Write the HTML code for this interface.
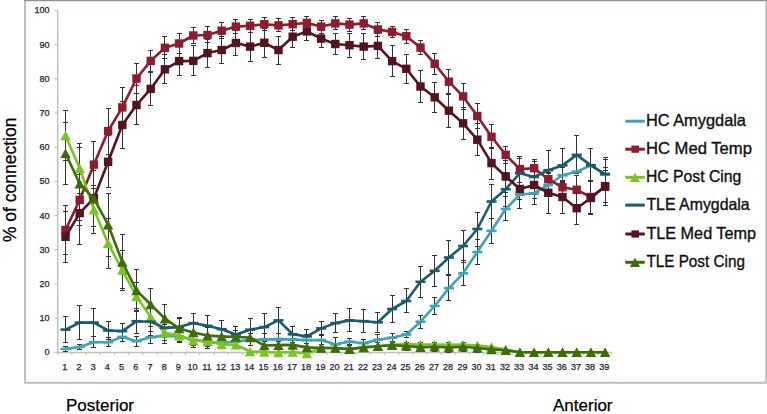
<!DOCTYPE html>
<html><head><meta charset="utf-8"><style>
html,body{margin:0;padding:0;background:#fff;}
body{width:767px;height:414px;overflow:hidden;position:relative;font-family:"Liberation Sans",sans-serif;}
svg{position:absolute;left:0;top:0;}
.tl{font-size:9px;fill:#1c1c40;stroke:#1c1c40;stroke-width:0.25px;}
.lg{font-size:16.5px;fill:#101010;stroke:#101010;stroke-width:0.35px;}
.yt{font-size:17.5px;fill:#000;stroke:#000;stroke-width:0.25px;}
.bt{font-size:17px;fill:#000;stroke:#000;stroke-width:0.25px;}
</style></head><body>
<svg width="767" height="414" viewBox="0 0 767 414">
<path d="M25 0V382.8H766.3V0" fill="none" stroke="#bcc0c0" stroke-width="2"/><path d="M24 0.6H767" stroke="#8c9494" stroke-width="1.2"/>
<path d="M57.7 10.5V352.4H611.2" fill="none" stroke="#bcc3c3" stroke-width="1.5"/>
<path d="M54.5 352.4H57.7M54.5 318.2H57.7M54.5 284.0H57.7M54.5 249.8H57.7M54.5 215.6H57.7M54.5 181.4H57.7M54.5 147.3H57.7M54.5 113.1H57.7M54.5 78.9H57.7M54.5 44.7H57.7M54.5 10.5H57.7M57.7 352.4V355M71.9 352.4V355M86.1 352.4V355M100.3 352.4V355M114.5 352.4V355M128.7 352.4V355M142.9 352.4V355M157.1 352.4V355M171.3 352.4V355M185.5 352.4V355M199.7 352.4V355M213.9 352.4V355M228.1 352.4V355M242.3 352.4V355M256.5 352.4V355M270.7 352.4V355M284.9 352.4V355M299.1 352.4V355M313.3 352.4V355M327.5 352.4V355M341.7 352.4V355M355.9 352.4V355M370.1 352.4V355M384.3 352.4V355M398.5 352.4V355M412.7 352.4V355M426.9 352.4V355M441.1 352.4V355M455.3 352.4V355M469.5 352.4V355M483.7 352.4V355M497.9 352.4V355M512.1 352.4V355M526.3 352.4V355M540.5 352.4V355M554.7 352.4V355M568.9 352.4V355M583.1 352.4V355M597.3 352.4V355M611.5 352.4V355" fill="none" stroke="#bcc3c3" stroke-width="1.2"/>
<text x="49.5" y="355.3" text-anchor="end" class="tl">0</text>
<text x="49.5" y="321.1" text-anchor="end" class="tl">10</text>
<text x="49.5" y="286.9" text-anchor="end" class="tl">20</text>
<text x="49.5" y="252.7" text-anchor="end" class="tl">30</text>
<text x="49.5" y="218.5" text-anchor="end" class="tl">40</text>
<text x="49.5" y="184.3" text-anchor="end" class="tl">50</text>
<text x="49.5" y="150.2" text-anchor="end" class="tl">60</text>
<text x="49.5" y="116.0" text-anchor="end" class="tl">70</text>
<text x="49.5" y="81.8" text-anchor="end" class="tl">80</text>
<text x="49.5" y="47.6" text-anchor="end" class="tl">90</text>
<text x="49.5" y="13.4" text-anchor="end" class="tl">100</text>
<text x="64.8" y="369.6" text-anchor="middle" class="tl">1</text>
<text x="79.0" y="369.6" text-anchor="middle" class="tl">2</text>
<text x="93.2" y="369.6" text-anchor="middle" class="tl">3</text>
<text x="107.3" y="369.6" text-anchor="middle" class="tl">4</text>
<text x="121.6" y="369.6" text-anchor="middle" class="tl">5</text>
<text x="135.8" y="369.6" text-anchor="middle" class="tl">6</text>
<text x="149.9" y="369.6" text-anchor="middle" class="tl">7</text>
<text x="164.2" y="369.6" text-anchor="middle" class="tl">8</text>
<text x="178.3" y="369.6" text-anchor="middle" class="tl">9</text>
<text x="192.6" y="369.6" text-anchor="middle" class="tl">10</text>
<text x="206.8" y="369.6" text-anchor="middle" class="tl">11</text>
<text x="220.9" y="369.6" text-anchor="middle" class="tl">12</text>
<text x="235.2" y="369.6" text-anchor="middle" class="tl">13</text>
<text x="249.3" y="369.6" text-anchor="middle" class="tl">14</text>
<text x="263.5" y="369.6" text-anchor="middle" class="tl">15</text>
<text x="277.8" y="369.6" text-anchor="middle" class="tl">16</text>
<text x="291.9" y="369.6" text-anchor="middle" class="tl">17</text>
<text x="306.1" y="369.6" text-anchor="middle" class="tl">18</text>
<text x="320.4" y="369.6" text-anchor="middle" class="tl">19</text>
<text x="334.5" y="369.6" text-anchor="middle" class="tl">20</text>
<text x="348.8" y="369.6" text-anchor="middle" class="tl">21</text>
<text x="363.0" y="369.6" text-anchor="middle" class="tl">22</text>
<text x="377.1" y="369.6" text-anchor="middle" class="tl">23</text>
<text x="391.4" y="369.6" text-anchor="middle" class="tl">24</text>
<text x="405.5" y="369.6" text-anchor="middle" class="tl">25</text>
<text x="419.8" y="369.6" text-anchor="middle" class="tl">26</text>
<text x="433.9" y="369.6" text-anchor="middle" class="tl">27</text>
<text x="448.1" y="369.6" text-anchor="middle" class="tl">28</text>
<text x="462.4" y="369.6" text-anchor="middle" class="tl">29</text>
<text x="476.5" y="369.6" text-anchor="middle" class="tl">30</text>
<text x="490.8" y="369.6" text-anchor="middle" class="tl">31</text>
<text x="504.9" y="369.6" text-anchor="middle" class="tl">32</text>
<text x="519.1" y="369.6" text-anchor="middle" class="tl">33</text>
<text x="533.4" y="369.6" text-anchor="middle" class="tl">34</text>
<text x="547.5" y="369.6" text-anchor="middle" class="tl">35</text>
<text x="561.8" y="369.6" text-anchor="middle" class="tl">36</text>
<text x="575.9" y="369.6" text-anchor="middle" class="tl">37</text>
<text x="590.1" y="369.6" text-anchor="middle" class="tl">38</text>
<text x="604.3" y="369.6" text-anchor="middle" class="tl">39</text>
<path d="M65.5 346.5V351.5M63.0 346.5h5M63.0 351.5h5M79.5 344.5V349.5M77.0 344.5h5M77.0 349.5h5M93.5 336.5V347.5M91.0 336.5h5M91.0 347.5h5M108.5 337.5V346.5M106.0 337.5h5M106.0 346.5h5M122.5 331.5V341.5M120.0 331.5h5M120.0 341.5h5M136.5 336.5V346.5M134.0 336.5h5M134.0 346.5h5M150.5 331.5V343.5M148.0 331.5h5M148.0 343.5h5M164.5 327.5V343.5M162.0 327.5h5M162.0 343.5h5M179.5 329.5V342.5M177.0 329.5h5M177.0 342.5h5M193.5 331.5V347.5M191.0 331.5h5M191.0 347.5h5M207.5 334.5V348.5M205.0 334.5h5M205.0 348.5h5M221.5 336.5V348.5M219.0 336.5h5M219.0 348.5h5M235.5 335.5V347.5M233.0 335.5h5M233.0 347.5h5M250.5 333.5V345.5M248.0 333.5h5M248.0 345.5h5M264.5 333.5V345.5M262.0 333.5h5M262.0 345.5h5M278.5 333.5V345.5M276.0 333.5h5M276.0 345.5h5M292.5 333.5V345.5M290.0 333.5h5M290.0 345.5h5M306.5 334.5V346.5M304.0 334.5h5M304.0 346.5h5M321.5 334.5V346.5M319.0 334.5h5M319.0 346.5h5M335.5 337.5V351.5M333.0 337.5h5M333.0 351.5h5M349.5 338.5V344.5M347.0 338.5h5M347.0 344.5h5M363.5 339.5V347.5M361.0 339.5h5M361.0 347.5h5M377.5 334.5V345.5M375.0 334.5h5M375.0 345.5h5M392.5 333.5V342.5M390.0 333.5h5M390.0 342.5h5M406.5 331.5V337.5M404.0 331.5h5M404.0 337.5h5M420.5 315.5V328.5M418.0 315.5h5M418.0 328.5h5M434.5 297.5V314.5M432.0 297.5h5M432.0 314.5h5M448.5 275.5V300.5M446.0 275.5h5M446.0 300.5h5M463.5 260.5V285.5M461.0 260.5h5M461.0 285.5h5M477.5 239.5V264.5M475.0 239.5h5M475.0 264.5h5M491.5 218.5V243.5M489.0 218.5h5M489.0 243.5h5M505.5 196.5V220.5M503.0 196.5h5M503.0 220.5h5M519.5 189.5V199.5M517.0 189.5h5M517.0 199.5h5M534.5 188.5V198.5M532.0 188.5h5M532.0 198.5h5M548.5 173.5V196.5M546.0 173.5h5M546.0 196.5h5M562.5 167.5V183.5M560.0 167.5h5M560.0 183.5h5M590.5 148.5V181.5M588.0 148.5h5M588.0 181.5h5M605.5 159.5V189.5M603.0 159.5h5M603.0 189.5h5" fill="none" stroke="#333333" stroke-width="1"/>
<path d="M65.5 205.5V254.5M63.0 205.5h5M63.0 254.5h5M79.5 174.5V225.5M77.0 174.5h5M77.0 225.5h5M93.5 141.5V188.5M91.0 141.5h5M91.0 188.5h5M108.5 108.5V154.5M106.0 108.5h5M106.0 154.5h5M122.5 87.5V127.5M120.0 87.5h5M120.0 127.5h5M136.5 63.5V93.5M134.0 63.5h5M134.0 93.5h5M150.5 50.5V71.5M148.0 50.5h5M148.0 71.5h5M164.5 36.5V58.5M162.0 36.5h5M162.0 58.5h5M179.5 33.5V53.5M177.0 33.5h5M177.0 53.5h5M193.5 27.5V43.5M191.0 27.5h5M191.0 43.5h5M207.5 26.5V42.5M205.0 26.5h5M205.0 42.5h5M221.5 22.5V38.5M219.0 22.5h5M219.0 38.5h5M235.5 19.5V33.5M233.0 19.5h5M233.0 33.5h5M250.5 19.5V32.5M248.0 19.5h5M248.0 32.5h5M264.5 17.5V30.5M262.0 17.5h5M262.0 30.5h5M278.5 18.5V31.5M276.0 18.5h5M276.0 31.5h5M292.5 17.5V30.5M290.0 17.5h5M290.0 30.5h5M306.5 16.5V29.5M304.0 16.5h5M304.0 29.5h5M321.5 20.5V33.5M319.0 20.5h5M319.0 33.5h5M335.5 16.5V29.5M333.0 16.5h5M333.0 29.5h5M349.5 18.5V31.5M347.0 18.5h5M347.0 31.5h5M363.5 16.5V29.5M361.0 16.5h5M361.0 29.5h5M377.5 22.5V36.5M375.0 22.5h5M375.0 36.5h5M392.5 26.5V37.5M390.0 26.5h5M390.0 37.5h5M406.5 29.5V43.5M404.0 29.5h5M404.0 43.5h5M420.5 40.5V54.5M418.0 40.5h5M418.0 54.5h5M434.5 53.5V74.5M432.0 53.5h5M432.0 74.5h5M448.5 69.5V94.5M446.0 69.5h5M446.0 94.5h5M463.5 83.5V109.5M461.0 83.5h5M461.0 109.5h5M477.5 103.5V128.5M475.0 103.5h5M475.0 128.5h5M491.5 124.5V148.5M489.0 124.5h5M489.0 148.5h5M505.5 146.5V163.5M503.0 146.5h5M503.0 163.5h5M519.5 156.5V182.5M517.0 156.5h5M517.0 182.5h5M534.5 161.5V175.5M532.0 161.5h5M532.0 175.5h5M548.5 173.5V185.5M546.0 173.5h5M546.0 185.5h5M562.5 181.5V193.5M560.0 181.5h5M560.0 193.5h5M576.5 175.5V204.5M574.0 175.5h5M574.0 204.5h5M590.5 180.5V213.5M588.0 180.5h5M588.0 213.5h5M605.5 170.5V202.5M603.0 170.5h5M603.0 202.5h5" fill="none" stroke="#333333" stroke-width="1"/>
<path d="M65.5 110.5V160.5M63.0 110.5h5M63.0 160.5h5M79.5 143.5V193.5M77.0 143.5h5M77.0 193.5h5M93.5 185.5V233.5M91.0 185.5h5M91.0 233.5h5M108.5 218.5V268.5M106.0 218.5h5M106.0 268.5h5M122.5 250.5V290.5M120.0 250.5h5M120.0 290.5h5M136.5 282.5V310.5M134.0 282.5h5M134.0 310.5h5M150.5 306.5V326.5M148.0 306.5h5M148.0 326.5h5M164.5 324.5V340.5M162.0 324.5h5M162.0 340.5h5M179.5 329.5V341.5M177.0 329.5h5M177.0 341.5h5M193.5 335.5V345.5M191.0 335.5h5M191.0 345.5h5M207.5 336.5V346.5M205.0 336.5h5M205.0 346.5h5M221.5 340.5V348.5M219.0 340.5h5M219.0 348.5h5M235.5 340.5V348.5M233.0 340.5h5M233.0 348.5h5" fill="none" stroke="#333333" stroke-width="1"/>
<path d="M65.5 316.5V342.5M63.0 316.5h5M63.0 342.5h5M79.5 305.5V339.5M77.0 305.5h5M77.0 339.5h5M93.5 308.5V336.5M91.0 308.5h5M91.0 336.5h5M108.5 321.5V339.5M106.0 321.5h5M106.0 339.5h5M122.5 323.5V338.5M120.0 323.5h5M120.0 338.5h5M136.5 308.5V333.5M134.0 308.5h5M134.0 333.5h5M150.5 308.5V335.5M148.0 308.5h5M148.0 335.5h5M164.5 317.5V337.5M162.0 317.5h5M162.0 337.5h5M179.5 317.5V337.5M177.0 317.5h5M177.0 337.5h5M193.5 313.5V333.5M191.0 313.5h5M191.0 333.5h5M207.5 315.5V335.5M205.0 315.5h5M205.0 335.5h5M221.5 320.5V338.5M219.0 320.5h5M219.0 338.5h5M235.5 326.5V342.5M233.0 326.5h5M233.0 342.5h5M250.5 318.5V340.5M248.0 318.5h5M248.0 340.5h5M264.5 313.5V340.5M262.0 313.5h5M262.0 340.5h5M278.5 307.5V333.5M276.0 307.5h5M276.0 333.5h5M292.5 326.5V342.5M290.0 326.5h5M290.0 342.5h5M306.5 329.5V343.5M304.0 329.5h5M304.0 343.5h5M321.5 321.5V335.5M319.0 321.5h5M319.0 335.5h5M335.5 313.5V332.5M333.0 313.5h5M333.0 332.5h5M349.5 308.5V331.5M347.0 308.5h5M347.0 331.5h5M363.5 309.5V332.5M361.0 309.5h5M361.0 332.5h5M377.5 312.5V332.5M375.0 312.5h5M375.0 332.5h5M392.5 295.5V322.5M390.0 295.5h5M390.0 322.5h5M406.5 288.5V312.5M404.0 288.5h5M404.0 312.5h5M420.5 266.5V297.5M418.0 266.5h5M418.0 297.5h5M434.5 255.5V286.5M432.0 255.5h5M432.0 286.5h5M448.5 240.5V274.5M446.0 240.5h5M446.0 274.5h5M463.5 230.5V262.5M461.0 230.5h5M461.0 262.5h5M477.5 212.5V246.5M475.0 212.5h5M475.0 246.5h5M491.5 184.5V218.5M489.0 184.5h5M489.0 218.5h5M505.5 172.5V206.5M503.0 172.5h5M503.0 206.5h5M519.5 158.5V188.5M517.0 158.5h5M517.0 188.5h5M534.5 159.5V194.5M532.0 159.5h5M532.0 194.5h5M548.5 150.5V190.5M546.0 150.5h5M546.0 190.5h5M562.5 148.5V182.5M560.0 148.5h5M560.0 182.5h5M576.5 135.5V173.5M574.0 135.5h5M574.0 173.5h5M590.5 148.5V181.5M588.0 148.5h5M588.0 181.5h5M605.5 157.5V190.5M603.0 157.5h5M603.0 190.5h5" fill="none" stroke="#333333" stroke-width="1"/>
<path d="M65.5 211.5V262.5M63.0 211.5h5M63.0 262.5h5M79.5 182.5V244.5M77.0 182.5h5M77.0 244.5h5M93.5 170.5V226.5M91.0 170.5h5M91.0 226.5h5M108.5 135.5V187.5M106.0 135.5h5M106.0 187.5h5M122.5 101.5V148.5M120.0 101.5h5M120.0 148.5h5M136.5 85.5V124.5M134.0 85.5h5M134.0 124.5h5M150.5 72.5V105.5M148.0 72.5h5M148.0 105.5h5M164.5 54.5V83.5M162.0 54.5h5M162.0 83.5h5M179.5 46.5V75.5M177.0 46.5h5M177.0 75.5h5M193.5 45.5V75.5M191.0 45.5h5M191.0 75.5h5M207.5 39.5V67.5M205.0 39.5h5M205.0 67.5h5M221.5 36.5V63.5M219.0 36.5h5M219.0 63.5h5M235.5 30.5V55.5M233.0 30.5h5M233.0 55.5h5M250.5 32.5V61.5M248.0 32.5h5M248.0 61.5h5M264.5 28.5V57.5M262.0 28.5h5M262.0 57.5h5M278.5 36.5V64.5M276.0 36.5h5M276.0 64.5h5M292.5 26.5V47.5M290.0 26.5h5M290.0 47.5h5M306.5 21.5V40.5M304.0 21.5h5M304.0 40.5h5M321.5 30.5V47.5M319.0 30.5h5M319.0 47.5h5M335.5 33.5V54.5M333.0 33.5h5M333.0 54.5h5M349.5 33.5V57.5M347.0 33.5h5M347.0 57.5h5M363.5 33.5V59.5M361.0 33.5h5M361.0 59.5h5M377.5 33.5V58.5M375.0 33.5h5M375.0 58.5h5M392.5 45.5V76.5M390.0 45.5h5M390.0 76.5h5M406.5 54.5V83.5M404.0 54.5h5M404.0 83.5h5M420.5 70.5V102.5M418.0 70.5h5M418.0 102.5h5M434.5 82.5V112.5M432.0 82.5h5M432.0 112.5h5M448.5 93.5V127.5M446.0 93.5h5M446.0 127.5h5M463.5 107.5V139.5M461.0 107.5h5M461.0 139.5h5M477.5 123.5V155.5M475.0 123.5h5M475.0 155.5h5M491.5 147.5V179.5M489.0 147.5h5M489.0 179.5h5M505.5 160.5V192.5M503.0 160.5h5M503.0 192.5h5M519.5 170.5V208.5M517.0 170.5h5M517.0 208.5h5M534.5 165.5V204.5M532.0 165.5h5M532.0 204.5h5M548.5 172.5V213.5M546.0 172.5h5M546.0 213.5h5M562.5 180.5V213.5M560.0 180.5h5M560.0 213.5h5M576.5 192.5V224.5M574.0 192.5h5M574.0 224.5h5M590.5 181.5V214.5M588.0 181.5h5M588.0 214.5h5M605.5 167.5V205.5M603.0 167.5h5M603.0 205.5h5" fill="none" stroke="#333333" stroke-width="1"/>
<path d="M65.5 122.5V184.5M63.0 122.5h5M63.0 184.5h5M79.5 147.5V220.5M77.0 147.5h5M77.0 220.5h5M93.5 170.5V226.5M91.0 170.5h5M91.0 226.5h5M108.5 193.5V256.5M106.0 193.5h5M106.0 256.5h5M122.5 234.5V288.5M120.0 234.5h5M120.0 288.5h5M136.5 269.5V311.5M134.0 269.5h5M134.0 311.5h5M150.5 288.5V320.5M148.0 288.5h5M148.0 320.5h5M164.5 304.5V332.5M162.0 304.5h5M162.0 332.5h5M179.5 318.5V338.5M177.0 318.5h5M177.0 338.5h5M193.5 322.5V342.5M191.0 322.5h5M191.0 342.5h5M207.5 327.5V343.5M205.0 327.5h5M205.0 343.5h5M221.5 329.5V343.5M219.0 329.5h5M219.0 343.5h5M235.5 330.5V342.5M233.0 330.5h5M233.0 342.5h5M250.5 333.5V341.5M248.0 333.5h5M248.0 341.5h5M264.5 341.5V349.5M262.0 341.5h5M262.0 349.5h5M278.5 341.5V349.5M276.0 341.5h5M276.0 349.5h5M292.5 340.5V348.5M290.0 340.5h5M290.0 348.5h5M306.5 343.5V351.5M304.0 343.5h5M304.0 351.5h5M321.5 344.5V352.5M319.0 344.5h5M319.0 352.5h5M335.5 344.5V352.5M333.0 344.5h5M333.0 352.5h5M349.5 345.5V353.5M347.0 345.5h5M347.0 353.5h5M363.5 343.5V351.5M361.0 343.5h5M361.0 351.5h5M377.5 342.5V350.5M375.0 342.5h5M375.0 350.5h5M392.5 341.5V349.5M390.0 341.5h5M390.0 349.5h5M406.5 342.5V350.5M404.0 342.5h5M404.0 350.5h5M420.5 342.5V351.5M418.0 342.5h5M418.0 351.5h5M434.5 342.5V351.5M432.0 342.5h5M432.0 351.5h5M448.5 342.5V352.5M446.0 342.5h5M446.0 352.5h5M463.5 342.5V351.5M461.0 342.5h5M461.0 351.5h5M477.5 344.5V352.5M475.0 344.5h5M475.0 352.5h5" fill="none" stroke="#333333" stroke-width="1"/>
<polyline points="65.5,348.9 79.7,347.0 93.9,342.2 108.1,342.2 122.3,336.9 136.5,341.2 150.7,337.2 164.9,335.6 179.1,336.4 193.3,339.8 207.5,341.7 221.7,343.0 235.9,341.5 250.1,339.8 264.3,339.5 278.5,339.1 292.7,339.5 306.9,340.1 321.1,340.1 335.3,344.3 349.5,341.7 363.7,343.2 377.9,339.8 392.1,337.7 406.3,334.5 420.5,321.7 434.7,306.0 448.9,288.1 463.1,273.3 477.3,252.0 491.5,230.8 505.7,209.0 519.9,194.5 534.1,193.2 548.3,185.0 562.5,175.3 576.7,171.7 590.9,165.4 605.1,174.6" fill="none" stroke="#3ba5b5" stroke-width="2.6" stroke-linejoin="round"/>
<rect x="60.5" y="347.6" width="10" height="2.6" fill="#3ba5b5"/><rect x="74.7" y="345.7" width="10" height="2.6" fill="#3ba5b5"/><rect x="88.9" y="340.9" width="10" height="2.6" fill="#3ba5b5"/><rect x="103.1" y="340.9" width="10" height="2.6" fill="#3ba5b5"/><rect x="117.3" y="335.6" width="10" height="2.6" fill="#3ba5b5"/><rect x="131.5" y="339.9" width="10" height="2.6" fill="#3ba5b5"/><rect x="145.7" y="335.9" width="10" height="2.6" fill="#3ba5b5"/><rect x="159.9" y="334.3" width="10" height="2.6" fill="#3ba5b5"/><rect x="174.1" y="335.1" width="10" height="2.6" fill="#3ba5b5"/><rect x="188.3" y="338.5" width="10" height="2.6" fill="#3ba5b5"/><rect x="202.5" y="340.4" width="10" height="2.6" fill="#3ba5b5"/><rect x="216.7" y="341.7" width="10" height="2.6" fill="#3ba5b5"/><rect x="230.9" y="340.2" width="10" height="2.6" fill="#3ba5b5"/><rect x="245.1" y="338.5" width="10" height="2.6" fill="#3ba5b5"/><rect x="259.3" y="338.2" width="10" height="2.6" fill="#3ba5b5"/><rect x="273.5" y="337.8" width="10" height="2.6" fill="#3ba5b5"/><rect x="287.7" y="338.2" width="10" height="2.6" fill="#3ba5b5"/><rect x="301.9" y="338.8" width="10" height="2.6" fill="#3ba5b5"/><rect x="316.1" y="338.8" width="10" height="2.6" fill="#3ba5b5"/><rect x="330.3" y="343.0" width="10" height="2.6" fill="#3ba5b5"/><rect x="344.5" y="340.4" width="10" height="2.6" fill="#3ba5b5"/><rect x="358.7" y="341.9" width="10" height="2.6" fill="#3ba5b5"/><rect x="372.9" y="338.5" width="10" height="2.6" fill="#3ba5b5"/><rect x="387.1" y="336.4" width="10" height="2.6" fill="#3ba5b5"/><rect x="401.3" y="333.2" width="10" height="2.6" fill="#3ba5b5"/><rect x="415.5" y="320.4" width="10" height="2.6" fill="#3ba5b5"/><rect x="429.7" y="304.7" width="10" height="2.6" fill="#3ba5b5"/><rect x="443.9" y="286.8" width="10" height="2.6" fill="#3ba5b5"/><rect x="458.1" y="272.0" width="10" height="2.6" fill="#3ba5b5"/><rect x="472.3" y="250.7" width="10" height="2.6" fill="#3ba5b5"/><rect x="486.5" y="229.5" width="10" height="2.6" fill="#3ba5b5"/><rect x="500.7" y="207.7" width="10" height="2.6" fill="#3ba5b5"/><rect x="514.9" y="193.2" width="10" height="2.6" fill="#3ba5b5"/><rect x="529.1" y="191.9" width="10" height="2.6" fill="#3ba5b5"/><rect x="543.3" y="183.7" width="10" height="2.6" fill="#3ba5b5"/><rect x="557.5" y="174.0" width="10" height="2.6" fill="#3ba5b5"/><rect x="571.7" y="170.4" width="10" height="2.6" fill="#3ba5b5"/><rect x="585.9" y="164.1" width="10" height="2.6" fill="#3ba5b5"/><rect x="600.1" y="173.3" width="10" height="2.6" fill="#3ba5b5"/>
<polyline points="65.5,230.0 79.7,199.9 93.9,164.6 108.1,131.1 122.3,107.4 136.5,78.5 150.7,60.9 164.9,47.8 179.1,43.5 193.3,35.5 207.5,35.0 221.7,30.7 235.9,26.6 250.1,25.8 264.3,24.2 278.5,25.4 292.7,24.2 306.9,22.9 321.1,26.6 335.3,23.4 349.5,24.6 363.7,23.4 377.9,29.5 392.1,31.9 406.3,36.2 420.5,47.6 434.7,63.8 448.9,81.7 463.1,96.4 477.3,116.0 491.5,136.8 505.7,154.8 519.9,169.1 534.1,168.2 548.3,179.2 562.5,187.3 576.7,189.8 590.9,197.0 605.1,186.5" fill="none" stroke="#8f1b2f" stroke-width="2.6" stroke-linejoin="round"/>
<rect x="61.3" y="225.8" width="8.4" height="8.4" fill="#8f1b2f"/><rect x="75.5" y="195.7" width="8.4" height="8.4" fill="#8f1b2f"/><rect x="89.7" y="160.4" width="8.4" height="8.4" fill="#8f1b2f"/><rect x="103.9" y="126.9" width="8.4" height="8.4" fill="#8f1b2f"/><rect x="118.1" y="103.2" width="8.4" height="8.4" fill="#8f1b2f"/><rect x="132.3" y="74.3" width="8.4" height="8.4" fill="#8f1b2f"/><rect x="146.5" y="56.7" width="8.4" height="8.4" fill="#8f1b2f"/><rect x="160.7" y="43.6" width="8.4" height="8.4" fill="#8f1b2f"/><rect x="174.9" y="39.3" width="8.4" height="8.4" fill="#8f1b2f"/><rect x="189.1" y="31.3" width="8.4" height="8.4" fill="#8f1b2f"/><rect x="203.3" y="30.8" width="8.4" height="8.4" fill="#8f1b2f"/><rect x="217.5" y="26.5" width="8.4" height="8.4" fill="#8f1b2f"/><rect x="231.7" y="22.4" width="8.4" height="8.4" fill="#8f1b2f"/><rect x="245.9" y="21.6" width="8.4" height="8.4" fill="#8f1b2f"/><rect x="260.1" y="20.0" width="8.4" height="8.4" fill="#8f1b2f"/><rect x="274.3" y="21.2" width="8.4" height="8.4" fill="#8f1b2f"/><rect x="288.5" y="20.0" width="8.4" height="8.4" fill="#8f1b2f"/><rect x="302.7" y="18.7" width="8.4" height="8.4" fill="#8f1b2f"/><rect x="316.9" y="22.4" width="8.4" height="8.4" fill="#8f1b2f"/><rect x="331.1" y="19.2" width="8.4" height="8.4" fill="#8f1b2f"/><rect x="345.3" y="20.4" width="8.4" height="8.4" fill="#8f1b2f"/><rect x="359.5" y="19.2" width="8.4" height="8.4" fill="#8f1b2f"/><rect x="373.7" y="25.3" width="8.4" height="8.4" fill="#8f1b2f"/><rect x="387.9" y="27.7" width="8.4" height="8.4" fill="#8f1b2f"/><rect x="402.1" y="32.0" width="8.4" height="8.4" fill="#8f1b2f"/><rect x="416.3" y="43.4" width="8.4" height="8.4" fill="#8f1b2f"/><rect x="430.5" y="59.6" width="8.4" height="8.4" fill="#8f1b2f"/><rect x="444.7" y="77.5" width="8.4" height="8.4" fill="#8f1b2f"/><rect x="458.9" y="92.2" width="8.4" height="8.4" fill="#8f1b2f"/><rect x="473.1" y="111.8" width="8.4" height="8.4" fill="#8f1b2f"/><rect x="487.3" y="132.6" width="8.4" height="8.4" fill="#8f1b2f"/><rect x="501.5" y="150.6" width="8.4" height="8.4" fill="#8f1b2f"/><rect x="515.7" y="164.9" width="8.4" height="8.4" fill="#8f1b2f"/><rect x="529.9" y="164.0" width="8.4" height="8.4" fill="#8f1b2f"/><rect x="544.1" y="175.0" width="8.4" height="8.4" fill="#8f1b2f"/><rect x="558.3" y="183.1" width="8.4" height="8.4" fill="#8f1b2f"/><rect x="572.5" y="185.6" width="8.4" height="8.4" fill="#8f1b2f"/><rect x="586.7" y="192.8" width="8.4" height="8.4" fill="#8f1b2f"/><rect x="600.9" y="182.3" width="8.4" height="8.4" fill="#8f1b2f"/>
<polyline points="65.5,135.5 79.7,168.2 93.9,209.5 108.1,243.3 122.3,270.0 136.5,296.5 150.7,317.0 164.9,332.9 179.1,335.6 193.3,340.4 207.5,341.2 221.7,344.4 235.9,344.8 250.1,351.5 264.3,352.0 278.5,352.5 292.7,352.0 306.9,353.5 321.1,348.0 335.3,348.0 349.5,349.0 363.7,347.4 377.9,346.3 392.1,344.5 406.3,344.3 420.5,344.5 434.7,344.5 448.9,344.8 463.1,344.5 477.3,345.5 491.5,347.0 505.7,349.5 519.9,352.3 534.1,352.3 548.3,352.3 562.5,352.3 576.7,352.3 590.9,352.3 605.1,352.3" fill="none" stroke="#7cc421" stroke-width="2.6" stroke-linejoin="round"/>
<path d="M65.5 130.7L70.7 140.3L60.3 140.3ZM79.7 163.4L84.9 173.0L74.5 173.0ZM93.9 204.7L99.1 214.3L88.7 214.3ZM108.1 238.5L113.3 248.1L102.9 248.1ZM122.3 265.2L127.5 274.8L117.1 274.8ZM136.5 291.7L141.7 301.3L131.3 301.3ZM150.7 312.2L155.9 321.8L145.5 321.8ZM164.9 328.1L170.1 337.7L159.7 337.7ZM179.1 330.8L184.3 340.4L173.9 340.4ZM193.3 335.6L198.5 345.2L188.1 345.2ZM207.5 336.4L212.7 346.0L202.3 346.0ZM221.7 339.6L226.9 349.2L216.5 349.2ZM235.9 340.0L241.1 349.6L230.7 349.6ZM250.1 346.7L255.3 356.3L244.9 356.3ZM264.3 347.2L269.5 356.8L259.1 356.8ZM278.5 347.7L283.7 357.3L273.3 357.3ZM292.7 347.2L297.9 356.8L287.5 356.8ZM306.9 348.7L312.1 358.3L301.7 358.3ZM321.1 343.2L326.3 352.8L315.9 352.8ZM335.3 343.2L340.5 352.8L330.1 352.8ZM349.5 344.2L354.7 353.8L344.3 353.8ZM363.7 342.6L368.9 352.2L358.5 352.2ZM377.9 341.5L383.1 351.1L372.7 351.1ZM392.1 339.7L397.3 349.3L386.9 349.3ZM406.3 339.5L411.5 349.1L401.1 349.1ZM420.5 339.7L425.7 349.3L415.3 349.3ZM434.7 339.7L439.9 349.3L429.5 349.3ZM448.9 340.0L454.1 349.6L443.7 349.6ZM463.1 339.7L468.3 349.3L457.9 349.3ZM477.3 340.7L482.5 350.3L472.1 350.3ZM491.5 342.2L496.7 351.8L486.3 351.8ZM505.7 344.7L510.9 354.3L500.5 354.3ZM519.9 347.5L525.1 357.1L514.7 357.1ZM534.1 347.5L539.3 357.1L528.9 357.1ZM548.3 347.5L553.5 357.1L543.1 357.1ZM562.5 347.5L567.7 357.1L557.3 357.1ZM576.7 347.5L581.9 357.1L571.5 357.1ZM590.9 347.5L596.1 357.1L585.7 357.1ZM605.1 347.5L610.3 357.1L599.9 357.1Z" fill="#7cc421"/>
<polyline points="65.5,329.6 79.7,322.6 93.9,322.6 108.1,330.5 122.3,331.1 136.5,321.2 150.7,321.8 164.9,327.9 179.1,327.1 193.3,323.1 207.5,325.8 221.7,329.2 235.9,334.5 250.1,329.7 264.3,327.1 278.5,320.4 292.7,334.3 306.9,336.4 321.1,328.4 335.3,323.1 349.5,320.4 363.7,321.2 377.9,322.3 392.1,309.0 406.3,301.0 420.5,281.8 434.7,270.8 448.9,257.5 463.1,246.0 477.3,229.0 491.5,201.5 505.7,189.2 519.9,173.2 534.1,177.0 548.3,170.2 562.5,165.4 576.7,154.9 590.9,165.4 605.1,174.0" fill="none" stroke="#1a5b6c" stroke-width="2.6" stroke-linejoin="round"/>
<rect x="60.5" y="328.3" width="10" height="2.6" fill="#1a5b6c"/><rect x="74.7" y="321.3" width="10" height="2.6" fill="#1a5b6c"/><rect x="88.9" y="321.3" width="10" height="2.6" fill="#1a5b6c"/><rect x="103.1" y="329.2" width="10" height="2.6" fill="#1a5b6c"/><rect x="117.3" y="329.8" width="10" height="2.6" fill="#1a5b6c"/><rect x="131.5" y="319.9" width="10" height="2.6" fill="#1a5b6c"/><rect x="145.7" y="320.5" width="10" height="2.6" fill="#1a5b6c"/><rect x="159.9" y="326.6" width="10" height="2.6" fill="#1a5b6c"/><rect x="174.1" y="325.8" width="10" height="2.6" fill="#1a5b6c"/><rect x="188.3" y="321.8" width="10" height="2.6" fill="#1a5b6c"/><rect x="202.5" y="324.5" width="10" height="2.6" fill="#1a5b6c"/><rect x="216.7" y="327.9" width="10" height="2.6" fill="#1a5b6c"/><rect x="230.9" y="333.2" width="10" height="2.6" fill="#1a5b6c"/><rect x="245.1" y="328.4" width="10" height="2.6" fill="#1a5b6c"/><rect x="259.3" y="325.8" width="10" height="2.6" fill="#1a5b6c"/><rect x="273.5" y="319.1" width="10" height="2.6" fill="#1a5b6c"/><rect x="287.7" y="333.0" width="10" height="2.6" fill="#1a5b6c"/><rect x="301.9" y="335.1" width="10" height="2.6" fill="#1a5b6c"/><rect x="316.1" y="327.1" width="10" height="2.6" fill="#1a5b6c"/><rect x="330.3" y="321.8" width="10" height="2.6" fill="#1a5b6c"/><rect x="344.5" y="319.1" width="10" height="2.6" fill="#1a5b6c"/><rect x="358.7" y="319.9" width="10" height="2.6" fill="#1a5b6c"/><rect x="372.9" y="321.0" width="10" height="2.6" fill="#1a5b6c"/><rect x="387.1" y="307.7" width="10" height="2.6" fill="#1a5b6c"/><rect x="401.3" y="299.7" width="10" height="2.6" fill="#1a5b6c"/><rect x="415.5" y="280.5" width="10" height="2.6" fill="#1a5b6c"/><rect x="429.7" y="269.5" width="10" height="2.6" fill="#1a5b6c"/><rect x="443.9" y="256.2" width="10" height="2.6" fill="#1a5b6c"/><rect x="458.1" y="244.7" width="10" height="2.6" fill="#1a5b6c"/><rect x="472.3" y="227.7" width="10" height="2.6" fill="#1a5b6c"/><rect x="486.5" y="200.2" width="10" height="2.6" fill="#1a5b6c"/><rect x="500.7" y="187.9" width="10" height="2.6" fill="#1a5b6c"/><rect x="514.9" y="171.9" width="10" height="2.6" fill="#1a5b6c"/><rect x="529.1" y="175.7" width="10" height="2.6" fill="#1a5b6c"/><rect x="543.3" y="168.9" width="10" height="2.6" fill="#1a5b6c"/><rect x="557.5" y="164.1" width="10" height="2.6" fill="#1a5b6c"/><rect x="571.7" y="153.6" width="10" height="2.6" fill="#1a5b6c"/><rect x="585.9" y="164.1" width="10" height="2.6" fill="#1a5b6c"/><rect x="600.1" y="172.7" width="10" height="2.6" fill="#1a5b6c"/>
<polyline points="65.5,236.8 79.7,213.1 93.9,198.2 108.1,161.8 122.3,125.0 136.5,105.0 150.7,88.9 164.9,69.3 179.1,61.1 193.3,60.9 207.5,53.1 221.7,50.0 235.9,43.0 250.1,46.6 264.3,42.8 278.5,50.0 292.7,36.7 306.9,31.4 321.1,38.6 335.3,44.0 349.5,45.2 363.7,46.6 377.9,45.9 392.1,61.1 406.3,68.8 420.5,86.5 434.7,97.3 448.9,110.7 463.1,123.3 477.3,139.7 491.5,163.1 505.7,176.5 519.9,189.0 534.1,185.0 548.3,192.8 562.5,197.0 576.7,208.2 590.9,198.0 605.1,186.3" fill="none" stroke="#55121f" stroke-width="2.6" stroke-linejoin="round"/>
<rect x="61.3" y="232.6" width="8.4" height="8.4" fill="#55121f"/><rect x="75.5" y="208.9" width="8.4" height="8.4" fill="#55121f"/><rect x="89.7" y="194.0" width="8.4" height="8.4" fill="#55121f"/><rect x="103.9" y="157.6" width="8.4" height="8.4" fill="#55121f"/><rect x="118.1" y="120.8" width="8.4" height="8.4" fill="#55121f"/><rect x="132.3" y="100.8" width="8.4" height="8.4" fill="#55121f"/><rect x="146.5" y="84.7" width="8.4" height="8.4" fill="#55121f"/><rect x="160.7" y="65.1" width="8.4" height="8.4" fill="#55121f"/><rect x="174.9" y="56.9" width="8.4" height="8.4" fill="#55121f"/><rect x="189.1" y="56.7" width="8.4" height="8.4" fill="#55121f"/><rect x="203.3" y="48.9" width="8.4" height="8.4" fill="#55121f"/><rect x="217.5" y="45.8" width="8.4" height="8.4" fill="#55121f"/><rect x="231.7" y="38.8" width="8.4" height="8.4" fill="#55121f"/><rect x="245.9" y="42.4" width="8.4" height="8.4" fill="#55121f"/><rect x="260.1" y="38.6" width="8.4" height="8.4" fill="#55121f"/><rect x="274.3" y="45.8" width="8.4" height="8.4" fill="#55121f"/><rect x="288.5" y="32.5" width="8.4" height="8.4" fill="#55121f"/><rect x="302.7" y="27.2" width="8.4" height="8.4" fill="#55121f"/><rect x="316.9" y="34.4" width="8.4" height="8.4" fill="#55121f"/><rect x="331.1" y="39.8" width="8.4" height="8.4" fill="#55121f"/><rect x="345.3" y="41.0" width="8.4" height="8.4" fill="#55121f"/><rect x="359.5" y="42.4" width="8.4" height="8.4" fill="#55121f"/><rect x="373.7" y="41.7" width="8.4" height="8.4" fill="#55121f"/><rect x="387.9" y="56.9" width="8.4" height="8.4" fill="#55121f"/><rect x="402.1" y="64.6" width="8.4" height="8.4" fill="#55121f"/><rect x="416.3" y="82.3" width="8.4" height="8.4" fill="#55121f"/><rect x="430.5" y="93.1" width="8.4" height="8.4" fill="#55121f"/><rect x="444.7" y="106.5" width="8.4" height="8.4" fill="#55121f"/><rect x="458.9" y="119.1" width="8.4" height="8.4" fill="#55121f"/><rect x="473.1" y="135.5" width="8.4" height="8.4" fill="#55121f"/><rect x="487.3" y="158.9" width="8.4" height="8.4" fill="#55121f"/><rect x="501.5" y="172.3" width="8.4" height="8.4" fill="#55121f"/><rect x="515.7" y="184.8" width="8.4" height="8.4" fill="#55121f"/><rect x="529.9" y="180.8" width="8.4" height="8.4" fill="#55121f"/><rect x="544.1" y="188.6" width="8.4" height="8.4" fill="#55121f"/><rect x="558.3" y="192.8" width="8.4" height="8.4" fill="#55121f"/><rect x="572.5" y="204.0" width="8.4" height="8.4" fill="#55121f"/><rect x="586.7" y="193.8" width="8.4" height="8.4" fill="#55121f"/><rect x="600.9" y="182.1" width="8.4" height="8.4" fill="#55121f"/>
<polyline points="65.5,153.3 79.7,183.7 93.9,198.6 108.1,224.7 122.3,262.0 136.5,290.4 150.7,304.5 164.9,318.6 179.1,328.4 193.3,332.4 207.5,335.6 221.7,336.4 235.9,337.0 250.1,337.5 264.3,345.5 278.5,345.1 292.7,344.9 306.9,347.4 321.1,348.0 335.3,348.0 349.5,349.1 363.7,347.4 377.9,346.3 392.1,345.3 406.3,346.0 420.5,347.2 434.7,346.7 448.9,347.5 463.1,346.7 477.3,348.0 491.5,349.4 505.7,350.2 519.9,352.3 534.1,352.3 548.3,352.3 562.5,352.3 576.7,352.3 590.9,352.3 605.1,352.3" fill="none" stroke="#3d6c0b" stroke-width="2.6" stroke-linejoin="round"/>
<path d="M65.5 148.5L70.7 158.1L60.3 158.1ZM79.7 178.9L84.9 188.5L74.5 188.5ZM93.9 193.8L99.1 203.4L88.7 203.4ZM108.1 219.9L113.3 229.5L102.9 229.5ZM122.3 257.2L127.5 266.8L117.1 266.8ZM136.5 285.6L141.7 295.2L131.3 295.2ZM150.7 299.7L155.9 309.3L145.5 309.3ZM164.9 313.8L170.1 323.4L159.7 323.4ZM179.1 323.6L184.3 333.2L173.9 333.2ZM193.3 327.6L198.5 337.2L188.1 337.2ZM207.5 330.8L212.7 340.4L202.3 340.4ZM221.7 331.6L226.9 341.2L216.5 341.2ZM235.9 332.2L241.1 341.8L230.7 341.8ZM250.1 332.7L255.3 342.3L244.9 342.3ZM264.3 340.7L269.5 350.3L259.1 350.3ZM278.5 340.3L283.7 349.9L273.3 349.9ZM292.7 340.1L297.9 349.7L287.5 349.7ZM306.9 342.6L312.1 352.2L301.7 352.2ZM321.1 343.2L326.3 352.8L315.9 352.8ZM335.3 343.2L340.5 352.8L330.1 352.8ZM349.5 344.3L354.7 353.9L344.3 353.9ZM363.7 342.6L368.9 352.2L358.5 352.2ZM377.9 341.5L383.1 351.1L372.7 351.1ZM392.1 340.5L397.3 350.1L386.9 350.1ZM406.3 341.2L411.5 350.8L401.1 350.8ZM420.5 342.4L425.7 352.0L415.3 352.0ZM434.7 341.9L439.9 351.5L429.5 351.5ZM448.9 342.7L454.1 352.3L443.7 352.3ZM463.1 341.9L468.3 351.5L457.9 351.5ZM477.3 343.2L482.5 352.8L472.1 352.8ZM491.5 344.6L496.7 354.2L486.3 354.2ZM505.7 345.4L510.9 355.0L500.5 355.0ZM519.9 347.5L525.1 357.1L514.7 357.1ZM534.1 347.5L539.3 357.1L528.9 357.1ZM548.3 347.5L553.5 357.1L543.1 357.1ZM562.5 347.5L567.7 357.1L557.3 357.1ZM576.7 347.5L581.9 357.1L571.5 357.1ZM590.9 347.5L596.1 357.1L585.7 357.1ZM605.1 347.5L610.3 357.1L599.9 357.1Z" fill="#3d6c0b"/>
<path d="M625.3 121.2H644.8" stroke="#3ba5b5" stroke-width="3"/>
<text x="645.9" y="126.2" class="lg" textLength="100.1" lengthAdjust="spacingAndGlyphs">HC Amygdala</text>
<path d="M625.3 149.2H644.8" stroke="#8f1b2f" stroke-width="3"/>
<rect x="631.4" y="145.6" width="7.6" height="7.2" fill="#8f1b2f"/>
<text x="645.9" y="154.2" class="lg" textLength="106.0" lengthAdjust="spacingAndGlyphs">HC Med Temp</text>
<path d="M625.3 177.3H644.8" stroke="#7cc421" stroke-width="3"/>
<path d="M635 172.7L640.1 181.9L629.9 181.9Z" fill="#7cc421"/>
<text x="645.9" y="182.3" class="lg" textLength="95.4" lengthAdjust="spacingAndGlyphs">HC Post Cing</text>
<path d="M625.3 205.1H644.8" stroke="#1a5b6c" stroke-width="3"/>
<text x="646.4" y="210.1" class="lg" textLength="103.3" lengthAdjust="spacingAndGlyphs">TLE Amygdala</text>
<path d="M625.3 234.0H644.8" stroke="#55121f" stroke-width="3"/>
<rect x="631.4" y="230.4" width="7.6" height="7.2" fill="#55121f"/>
<text x="646.4" y="239.0" class="lg" textLength="109.6" lengthAdjust="spacingAndGlyphs">TLE Med Temp</text>
<path d="M625.3 262.3H644.8" stroke="#3d6c0b" stroke-width="3"/>
<path d="M635 257.7L640.1 266.9L629.9 266.9Z" fill="#3d6c0b"/>
<text x="646.4" y="267.3" class="lg" textLength="98.5" lengthAdjust="spacingAndGlyphs">TLE Post Cing</text>
<text transform="translate(15.9 242.1) rotate(-90)" class="yt">% of connection</text>
<text x="66" y="411.1" class="bt">Posterior</text>
<text x="553" y="411.1" class="bt">Anterior</text>
</svg>
</body></html>
